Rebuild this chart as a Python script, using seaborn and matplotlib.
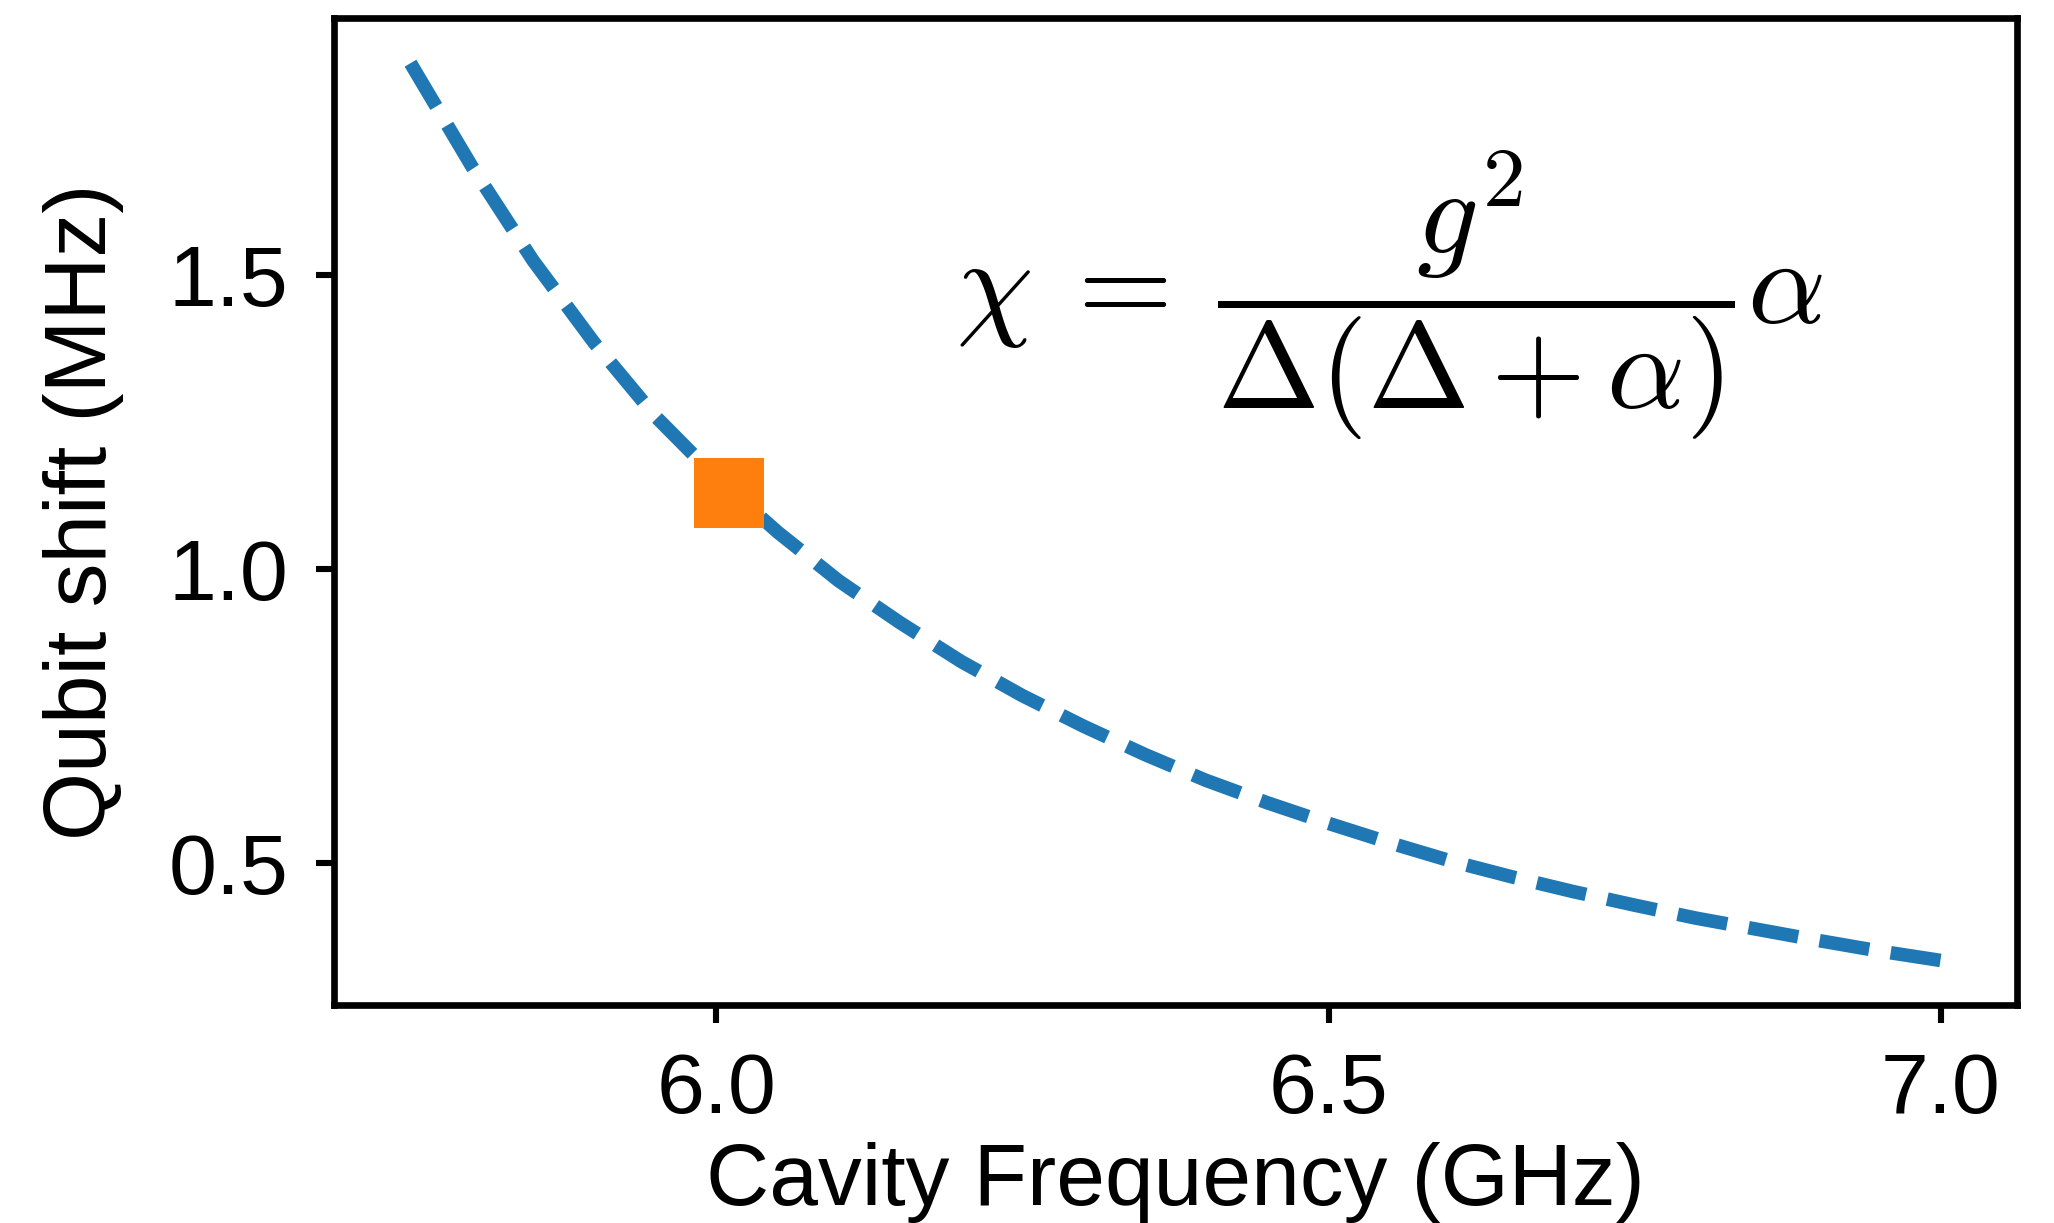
import numpy as np
import pandas as pd
import seaborn as sns
import matplotlib.pyplot as plt

# cavity frequency (GHz) and dispersive qubit shift (MHz)
cavity_freq = [5.75, 5.80, 5.85, 5.90, 5.95, 6.00, 6.05, 6.10, 6.15, 6.20,
               6.25, 6.30, 6.35, 6.40, 6.45, 6.50, 6.55, 6.60, 6.65, 6.70,
               6.75, 6.80, 6.85, 6.90, 6.95, 7.00]
qubit_shift = [1.860, 1.685, 1.525, 1.385, 1.260, 1.155, 1.063, 0.980, 0.909, 0.843,
               0.785, 0.733, 0.685, 0.641, 0.603, 0.568, 0.535, 0.504, 0.477, 0.452,
               0.429, 0.407, 0.388, 0.369, 0.351, 0.335]

# the chosen operating point
op_freq = [6.01]
op_shift = [1.13]

df = pd.DataFrame({'freq': cavity_freq, 'shift': qubit_shift})
pt = pd.DataFrame({'freq': op_freq, 'shift': op_shift})

sns.set_style('ticks')
plt.rcParams['font.family'] = ['Liberation Sans', 'DejaVu Sans']
plt.rcParams['mathtext.fontset'] = 'cm'
plt.rcParams['text.color'] = 'black'
plt.rcParams['axes.labelcolor'] = 'black'
plt.rcParams['xtick.color'] = 'black'
plt.rcParams['ytick.color'] = 'black'

fig, ax = plt.subplots(figsize=(10.27, 6.115), dpi=200)
fig.subplots_adjust(left=0.1626, right=0.982, top=0.985, bottom=0.178)

sns.lineplot(data=df, x='freq', y='shift', ax=ax, color='#1f77b4',
             linestyle='--', linewidth=4.9)
sns.scatterplot(data=pt, x='freq', y='shift', ax=ax, marker='s', s=620,
                color='#ff7f0e', linewidth=0, zorder=5)

ax.text(0.627, 0.72, r'$\chi\:=\:\dfrac{g^2}{\Delta(\Delta+\alpha)}\alpha$',
        transform=ax.transAxes, ha='center', va='center', fontsize=44)

ax.set_xticks([6.0, 6.5, 7.0])
ax.set_yticks([0.5, 1.0, 1.5])
ax.set_xlabel('Cavity Frequency (GHz)', fontsize=31.5)
ax.set_ylabel('Qubit shift (MHz)', fontsize=31.5, labelpad=16)
ax.tick_params(labelsize=31, width=2.2, length=6.5, pad=10)
for s in ax.spines.values():
    s.set_linewidth(2.4)
    s.set_color('black')

fig.savefig('out.png', dpi=200)
